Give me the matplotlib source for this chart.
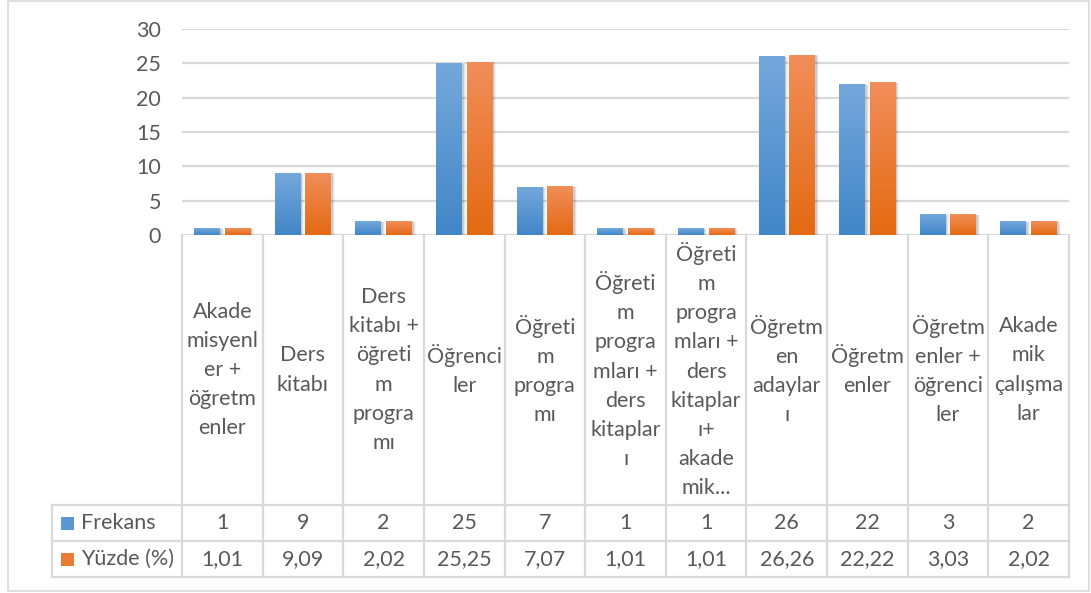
import numpy as np
import matplotlib
matplotlib.use("Agg")
import matplotlib.pyplot as plt
from matplotlib.patches import Rectangle
from matplotlib.lines import Line2D

categories = [
    "Akade\nmisyenl\ner +\nöğretm\nenler",
    "Ders\nkitabı",
    "Ders\nkitabı +\nöğreti\nm\nprogra\nmı",
    "Öğrenci\nler",
    "Öğreti\nm\nprogra\nmı",
    "Öğreti\nm\nprogra\nmları +\nders\nkitaplar\nı",
    "Öğreti\nm\nprogra\nmları +\nders\nkitaplar\nı+\nakade\nmik...",
    "Öğretm\nen\nadaylar\nı",
    "Öğretm\nenler",
    "Öğretm\nenler +\nöğrenci\nler",
    "Akade\nmik\nçalışma\nlar",
]
frekans = [1, 9, 2, 25, 7, 1, 1, 26, 22, 3, 2]
yuzde = [1.01, 9.09, 2.02, 25.25, 7.07, 1.01, 1.01, 26.26, 22.22, 3.03, 2.02]
series_names = ["Frekans", "Yüzde (%)"]
yticks = [0, 5, 10, 15, 20, 25, 30]

W, H = 1091, 593
FONT = "Lato"
TXT = "#595959"
GRID = "#d9d9d9"
FS = 15.5
plt.rcParams["font.family"] = [FONT, "DejaVu Sans"]

fig = plt.figure(figsize=(W / 100, H / 100), dpi=100)

def fx(px):
    return px / W

def fy(py):
    return 1 - py / H

# chart border
fig.add_artist(Rectangle((fx(8), fy(591)), fx(1089) - fx(8), fy(1) - fy(591),
                         transform=fig.transFigure, fill=False, ec=GRID, lw=1.2))

x_left, x_right = 182, 1069
y_zero, y_top = 235, 29
ax = fig.add_axes([fx(x_left), fy(y_zero), fx(x_right) - fx(x_left), fy(y_top) - fy(y_zero)])
n = len(categories)
ax.set_xlim(-0.5, n - 0.5)
ax.set_ylim(0, 30)
for s in ax.spines.values():
    s.set_visible(False)
ax.set_xticks([])
ax.set_yticks(yticks)
ax.set_yticklabels([str(t) for t in yticks], fontsize=FS, color=TXT)
ax.tick_params(axis="y", length=0, pad=15)
for t in yticks:
    ax.axhline(t, color=GRID, lw=1.6, zorder=0)

x = np.arange(n)
bw = 0.32
off = 0.19
blue_top, blue_bot = np.array([116, 168, 220]) / 255, np.array([66, 134, 200]) / 255
or_top, or_bot = np.array([241, 142, 90]) / 255, np.array([228, 106, 18]) / 255

def grad_bars(xs, vals, ctop, cbot):
    bars = ax.bar(xs, vals, width=bw, color="none", zorder=3)
    for b in bars:
        x0, y0 = b.get_x(), b.get_y()
        w, h = b.get_width(), b.get_height()
        # soft shadow
        for k, a in enumerate([0.10, 0.07, 0.04]):
            dx = 0.012 * (k + 1)
            ax.add_patch(Rectangle((x0 + dx, y0 - 0.05 * (k + 1)), w + 0.01, h,
                                   fc="black", ec="none", alpha=a, zorder=2))
        grad = np.linspace(0, 1, 100)[:, None, None]
        img = ctop[None, None, :] * (1 - grad) + cbot[None, None, :] * grad
        im = ax.imshow(img, extent=[x0, x0 + w, y0, y0 + h], aspect="auto",
                       origin="upper", zorder=3, interpolation="bilinear")
        im.set_clip_path(b)
    return bars

grad_bars(x - off, frekans, blue_top, blue_bot)
grad_bars(x + off, yuzde, or_top, or_bot)
ax.set_xlim(-0.5, n - 0.5)
ax.set_ylim(0, 30)

# data table
col_w = (x_right - x_left) / n
row1_top, row2_top, row2_bot = 505, 541, 577
leg_left = 52

def line(x0, y0, x1, y1):
    fig.add_artist(Line2D([fx(x0), fx(x1)], [fy(y0), fy(y1)], transform=fig.transFigure,
                          color=GRID, lw=1.6, zorder=1))

for i in range(n + 1):
    xc = x_left + i * col_w
    line(xc, y_zero, xc, row2_bot)
line(leg_left, row1_top, leg_left, row2_bot)
for yy in [row1_top, row2_top, row2_bot]:
    line(leg_left, yy, x_right, yy)

for i, lab in enumerate(categories):
    xc = x_left + (i + 0.5) * col_w
    fig.text(fx(xc), fy((y_zero + row1_top) / 2), lab, ha="center", va="center",
             fontsize=FS, color=TXT, linespacing=1.57, multialignment="center")

def fmt(v):
    if isinstance(v, int):
        return str(v)
    return f"{v:.2f}".replace(".", ",")

for r, (vals, name, c) in enumerate([(frekans, series_names[0], blue_bot),
                                      (yuzde, series_names[1], or_bot)]):
    ytop = [row1_top, row2_top][r]
    ybot = [row2_top, row2_bot][r]
    yc = (ytop + ybot) / 2
    for i, v in enumerate(vals):
        xc = x_left + (i + 0.5) * col_w
        fig.text(fx(xc), fy(yc), fmt(v), ha="center", va="center", fontsize=FS, color=TXT)
    ctop = [blue_top, or_top][r]
    fig.add_artist(Rectangle((fx(61), fy(yc + 6.5)), fx(13), fy(0) - fy(13),
                             transform=fig.transFigure, fc=(ctop + c) / 2, ec="none"))
    fig.text(fx(81), fy(yc), name, ha="left", va="center", fontsize=FS, color=TXT)

fig.savefig("out.png", dpi=100)
